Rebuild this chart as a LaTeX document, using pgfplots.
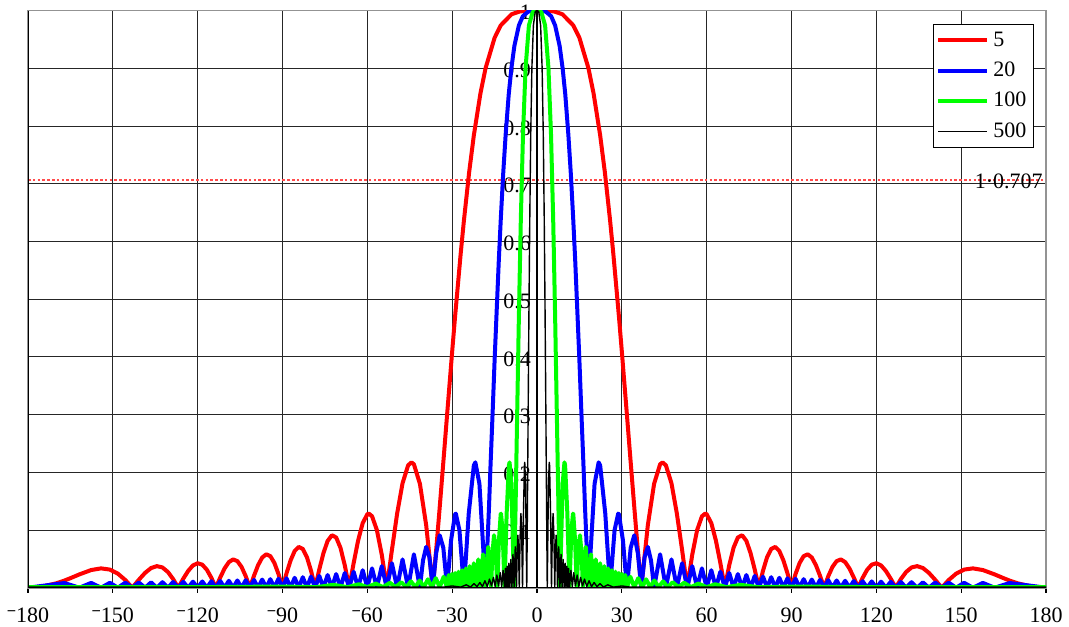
\documentclass[border=0pt]{standalone}
\usepackage{pgfplots}
\usepackage{pgfplotstable}
\usepackage{graphicx}
\usepackage{fontspec}
\setmainfont{Liberation Serif}
\pgfplotsset{compat=1.18}
\newcommand{\mn}{\raisebox{0.18em}{\scalebox{0.75}[1]{−}}}
\definecolor{pure red}{RGB}{255,0,0}
\definecolor{pure blue}{RGB}{0,0,255}
\definecolor{pure green}{RGB}{0,255,0}

\pgfplotstableread{
x y
-180 0
-175 0.0019
-170 0.0076
-167.16 0.0123
-165 0.0165
-161.81 0.0231
-157.67 0.0306
-154.16 0.0335
-151.04 0.0314
-148.21 0.0243
-145.59 0.0133
-143.13 0
-140.81 0.0137
-138.59 0.0257
-136.47 0.0341
-134.43 0.0374
-132.45 0.0351
-130.54 0.0273
-128.68 0.0150
-126.87 0
-125.10 0.0155
-123.37 0.0290
-121.67 0.0386
-120 0.0424
-118.36 0.0399
-116.74 0.0310
-115.15 0.0171
-113.58 0
-112.02 0.0177
-110.49 0.0333
-108.97 0.0444
-107.46 0.0490
-105.96 0.0461
-104.48 0.0360
-103.00 0.0199
-101.54 0
-100.08 0.0207
-98.63 0.0391
-97.18 0.0523
-95.74 0.0579
-94.30 0.0547
-92.87 0.0429
-91.43 0.0238
-90 0
-88.57 0.0250
-87.13 0.0474
-85.70 0.0636
-84.26 0.0707
-82.82 0.0672
-81.37 0.0530
-79.92 0.0295
-78.46 0
-77.00 0.0314
-75.52 0.0600
-74.04 0.0811
-72.54 0.0909
-71.03 0.0871
-69.51 0.0693
-67.98 0.0390
-66.42 0
-64.85 0.0424
-63.26 0.0818
-61.64 0.1120
-60.00 0.1273
-59.46 0.1284
-58.33 0.1238
-56.63 0.1000
-54.90 0.0573
-53.13 0
-51.32 0.0650
-49.46 0.1286
-47.55 0.1810
-45.57 0.2122
-44.40 0.2172
-43.53 0.2139
-41.41 0.1801
-39.19 0.1083
-36.87 0
-35.5 0.0743
-34.41 0.1392
-33 0.2252
-31.79 0.3001
-30 0.4092
-28.96 0.4706
-27 0.5783
-25.84 0.6366
-24 0.7199
-22.33 0.7842
-20 0.8568
-18.19 0.9003
-15 0.9530
-12.84 0.9745
-9 0.9938
-6 0.9988
-3 0.9999
0 1
3 0.9999
6 0.9988
9 0.9938
12.84 0.9745
15 0.9530
18.19 0.9003
20 0.8568
22.33 0.7842
24 0.7199
25.84 0.6366
27 0.5783
28.96 0.4706
30 0.4092
31.79 0.3001
33 0.2252
34.41 0.1392
35.5 0.0743
36.87 0
39.19 0.1083
41.41 0.1801
43.53 0.2139
44.40 0.2172
45.57 0.2122
47.55 0.1810
49.46 0.1286
51.32 0.0650
53.13 0
54.90 0.0573
56.63 0.1000
58.33 0.1238
59.46 0.1284
60.00 0.1273
61.64 0.1120
63.26 0.0818
64.85 0.0424
66.42 0
67.98 0.0390
69.51 0.0693
71.03 0.0871
72.54 0.0909
74.04 0.0811
75.52 0.0600
77.00 0.0314
78.46 0
79.92 0.0295
81.37 0.0530
82.82 0.0672
84.26 0.0707
85.70 0.0636
87.13 0.0474
88.57 0.0250
90 0
91.43 0.0238
92.87 0.0429
94.30 0.0547
95.74 0.0579
97.18 0.0523
98.63 0.0391
100.08 0.0207
101.54 0
103.00 0.0199
104.48 0.0360
105.96 0.0461
107.46 0.0490
108.97 0.0444
110.49 0.0333
112.02 0.0177
113.58 0
115.15 0.0171
116.74 0.0310
118.36 0.0399
120 0.0424
121.67 0.0386
123.37 0.0290
125.10 0.0155
126.87 0
128.68 0.0150
130.54 0.0273
132.45 0.0351
134.43 0.0374
136.47 0.0341
138.59 0.0257
140.81 0.0137
143.13 0
145.59 0.0133
148.21 0.0243
151.04 0.0314
154.16 0.0335
157.67 0.0306
161.81 0.0231
165 0.0165
167.16 0.0123
170 0.0076
175 0.0019
180 0
}\redtab

\pgfplotstableread{
x y
-180 0
-167.16 0.0081
-161.81 0
-157.67 0.0083
-154.16 0
-151.04 0.0085
-148.21 0
-145.59 0.0087
-143.13 0
-140.81 0.0090
-138.59 0
-136.47 0.0092
-134.43 0
-132.45 0.0095
-130.54 0
-128.68 0.0098
-126.87 0
-125.10 0.0101
-123.37 0
-121.67 0.0104
-120 0
-118.36 0.0108
-116.74 0
-115.15 0.0112
-113.58 0
-112.02 0.0116
-110.49 0
-108.97 0.0120
-107.46 0
-105.96 0.0125
-104.48 0
-103.00 0.0130
-101.54 0
-100.08 0.0135
-98.63 0
-97.18 0.0141
-95.74 0
-94.30 0.0148
-92.87 0
-91.43 0.0155
-90 0
-88.57 0.0163
-87.13 0
-85.70 0.0172
-84.26 0
-82.82 0.0182
-81.37 0
-79.92 0.0193
-78.46 0
-77.00 0.0205
-75.52 0
-74.04 0.0220
-72.54 0
-71.03 0.0236
-69.51 0
-67.98 0.0255
-66.42 0
-64.85 0.0277
-63.26 0
-61.64 0.0303
-60 0
-58.33 0.0335
-56.63 0
-54.90 0.0374
-53.13 0
-51.32 0.0424
-49.46 0
-47.55 0.0490
-45.57 0
-43.53 0.0579
-41.41 0
-40.31 0.0474
-39.19 0.0707
-38.05 0.0530
-36.87 0
-35.66 0.0600
-34.41 0.0909
-33.13 0.0693
-31.79 0
-30.40 0.0818
-28.96 0.1273
-28.71 0.1284
-27.44 0.1000
-25.84 0
-24.14 0.1286
-22.33 0.2122
-21.80 0.2172
-20.36 0.1801
-18.19 0
-17.6 0.0680
-16.98 0.1392
-16.4 0.2163
-15.72 0.3001
-15 0.3932
-14.34 0.4706
-13.5 0.5682
-12.83 0.6366
-12 0.7141
-11.10 0.7842
-10 0.8550
-9.06 0.9003
-8 0.9390
-6.41 0.9745
-5 0.9905
-3 0.9988
0 1
3 0.9988
5 0.9905
6.41 0.9745
8 0.9390
9.06 0.9003
10 0.8550
11.10 0.7842
12 0.7141
12.83 0.6366
13.5 0.5682
14.34 0.4706
15 0.3932
15.72 0.3001
16.4 0.2163
16.98 0.1392
17.6 0.0680
18.19 0
20.36 0.1801
21.80 0.2172
22.33 0.2122
24.14 0.1286
25.84 0
27.44 0.1000
28.71 0.1284
28.96 0.1273
30.40 0.0818
31.79 0
33.13 0.0693
34.41 0.0909
35.66 0.0600
36.87 0
38.05 0.0530
39.19 0.0707
40.31 0.0474
41.41 0
43.53 0.0579
45.57 0
47.55 0.0490
49.46 0
51.32 0.0424
53.13 0
54.90 0.0374
56.63 0
58.33 0.0335
60 0
61.64 0.0303
63.26 0
64.85 0.0277
66.42 0
67.98 0.0255
69.51 0
71.03 0.0236
72.54 0
74.04 0.0220
75.52 0
77.00 0.0205
78.46 0
79.92 0.0193
81.37 0
82.82 0.0182
84.26 0
85.70 0.0172
87.13 0
88.57 0.0163
90 0
91.43 0.0155
92.87 0
94.30 0.0148
95.74 0
97.18 0.0141
98.63 0
100.08 0.0135
101.54 0
103.00 0.0130
104.48 0
105.96 0.0125
107.46 0
108.97 0.0120
110.49 0
112.02 0.0116
113.58 0
115.15 0.0112
116.74 0
118.36 0.0108
120 0
121.67 0.0104
123.37 0
125.10 0.0101
126.87 0
128.68 0.0098
130.54 0
132.45 0.0095
134.43 0
136.47 0.0092
138.59 0
140.81 0.0090
143.13 0
145.59 0.0087
148.21 0
151.04 0.0085
154.16 0
157.67 0.0083
161.81 0
167.16 0.0081
180 0
}\bluetab

\pgfplotstableread{
x y
-180 0.001
-120 0.001
-90 0.002
-78.0 0.0010
-72.0 0.0050
-67.0 0.0010
-63.0 0.0060
-60.0 0.0010
-57.0 0.0072
-54.5 0.0010
-52.0 0.0085
-50.0 0.0010
-48.0 0.0095
-46.2 0.0010
-44.6 0.0110
-43.0 0.0010
-41.5 0.0125
-40.0 0.0010
-38.6 0.0145
-37.2 0.0010
-35.8 0.0165
-34.4 0.0010
-33.0 0.0190
-31.79 0
-31.24 0.0220
-30.68 0
-30.12 0.0236
-29.54 0
-28.96 0.0255
-28.35 0
-27.75 0.0277
-27.13 0
-26.49 0.0303
-25.84 0
-25.172 0.0335
-24.490 0
-23.790 0.0374
-23.071 0
-22.329 0.0424
-21.563 0
-20.770 0.0490
-19.947 0
-19.090 0.0579
-18.194 0
-17.253 0.0707
-16.260 0
-15.740 0.0600
-15.203 0.0909
-14.647 0.0693
-14.070 0
-13.468 0.0818
-12.838 0.1273
-12.732 0.1284
-12.177 0.1000
-11.478 0
-10.735 0.1286
-9.936 0.2122
-9.701 0.2172
-9.069 0.1801
-8.110 0
-7.580 0.1392
-7.017 0.3001
-6.406 0.4706
-5.730 0.6366
-4.962 0.7842
-4.051 0.9003
-2.865 0.9745
-1.5 0.9981
0 1
1.5 0.9981
2.865 0.9745
4.051 0.9003
4.962 0.7842
5.730 0.6366
6.406 0.4706
7.017 0.3001
7.580 0.1392
8.110 0
9.069 0.1801
9.701 0.2172
9.936 0.2122
10.735 0.1286
11.478 0
12.177 0.1000
12.732 0.1284
12.838 0.1273
13.468 0.0818
14.070 0
14.647 0.0693
15.203 0.0909
15.740 0.0600
16.260 0
17.253 0.0707
18.194 0
19.090 0.0579
19.947 0
20.770 0.0490
21.563 0
22.329 0.0424
23.071 0
23.790 0.0374
24.490 0
25.172 0.0335
25.84 0
26.49 0.0303
27.13 0
27.75 0.0277
28.35 0
28.96 0.0255
29.54 0
30.12 0.0236
30.68 0
31.24 0.0220
31.79 0
33.0 0.0190
34.4 0.0010
35.8 0.0165
37.2 0.0010
38.6 0.0145
40.0 0.0010
41.5 0.0125
43.0 0.0010
44.6 0.0110
46.2 0.0010
48.0 0.0095
50.0 0.0010
52.0 0.0085
54.5 0.0010
57.0 0.0072
60.0 0.0010
63.0 0.0060
67.0 0.0010
72.0 0.0050
78.0 0.0010
90 0.002
120 0.001
180 0.001
}\greentab

\pgfplotstableread{
x y
-180 0.001
-33.0 0.001
-30.0 0.003
-27.0 0.001
-25.0 0.005
-23.5 0.001
-22.3 0.007
-21.2 0.002
-20.2 0.009
-19.3 0.002
-18.4 0.012
-17.6 0.002
-16.8 0.015
-16.1 0.003
-15.4 0.018
-14.8 0.002
-14.2 0.022
-13.6 0.003
-13.0 0.026
-12.5 0.002
-12.0 0.030
-11.478 0
-11.169 0.0335
-10.871 0
-10.565 0.0374
-10.249 0
-9.924 0.0424
-9.587 0
-9.239 0.0490
-8.876 0
-8.498 0.0579
-8.103 0
-7.687 0.0707
-7.247 0
-7.017 0.0600
-6.779 0.0909
-6.533 0.0693
-6.276 0
-6.009 0.0818
-5.730 0.1273
-5.682 0.1284
-5.435 0.1000
-5.125 0
-4.794 0.1286
-4.438 0.2122
-4.333 0.2172
-4.051 0.1801
-3.624 0
-3.390 0.1392
-3.138 0.3001
-2.865 0.4706
-2.562 0.6366
-2.219 0.7842
-1.812 0.9003
-1.281 0.9745
-0.6 0.9988
0 1
0.6 0.9988
1.281 0.9745
1.812 0.9003
2.219 0.7842
2.562 0.6366
2.865 0.4706
3.138 0.3001
3.390 0.1392
3.624 0
4.051 0.1801
4.333 0.2172
4.438 0.2122
4.794 0.1286
5.125 0
5.435 0.1000
5.682 0.1284
5.730 0.1273
6.009 0.0818
6.276 0
6.533 0.0693
6.779 0.0909
7.017 0.0600
7.247 0
7.687 0.0707
8.103 0
8.498 0.0579
8.876 0
9.239 0.0490
9.587 0
9.924 0.0424
10.249 0
10.565 0.0374
10.871 0
11.169 0.0335
11.478 0
12.0 0.030
12.5 0.002
13.0 0.026
13.6 0.003
14.2 0.022
14.8 0.002
15.4 0.018
16.1 0.003
16.8 0.015
17.6 0.002
18.4 0.012
19.3 0.002
20.2 0.009
21.2 0.002
22.3 0.007
23.5 0.001
25.0 0.005
27.0 0.001
30.0 0.003
33.0 0.001
180 0.001
}\blacktab

\begin{document}
\begin{tikzpicture}
\begin{axis}[
  width=509pt, height=288.5pt, scale only axis,
  xmin=-180, xmax=180, ymin=0, ymax=1,
  xtick={-180,-150,-120,-90,-60,-30,0,30,60,90,120,150,180},
  xticklabels={\mn180,\mn150,\mn120,\mn90,\mn60,\mn30,0,30,60,90,120,150,180},
  ytick={0,0.1,0.2,0.3,0.4,0.5,0.6,0.7,0.8,0.9,1},
  yticklabels={,0.1,0.2,0.3,0.4,0.5,0.6,0.7,0.8,0.9,1},
  grid=major,
  major grid style={draw=black!85, line width=0.5pt},
  axis line style={draw=gray!85, line width=0.8pt},
  xtick pos=left, tick align=outside, major tick length=2.5pt,
  xtick style={draw=black, line width=0.6pt},
  ytick style={draw=none},
  ticklabel style={font=\fontsize{11}{13}\selectfont},
  xticklabel style={inner sep=1pt, yshift=-6.3pt},
  yticklabel style={xshift=257.5pt, yshift=-1pt},
  legend style={at={(axis description cs:0.9882,0.977)}, anchor=north east,
    draw=black, line width=0.7pt, fill=white,
    font=\fontsize{11}{13}\selectfont, inner xsep=1.5pt, inner ysep=1.5pt,
    row sep=2.4pt},
  legend cell align=left,
  legend image code/.code={\draw[#1] (0pt,0pt) -- (24.5pt,0pt);},
  clip=true,
]
\addplot[forget plot, pure red!70, line width=0.8pt, dash pattern=on 1.3pt off 1.1pt] coordinates {(-180,0.707) (180,0.707)};
\addplot[pure red, line width=2pt, line join=round] table[x=x,y=y] {\redtab};
\addplot[pure blue, line width=2pt, line join=round] table[x=x,y=y] {\bluetab};
\addplot[pure green, line width=2pt, line join=round] table[x=x,y=y] {\greentab};
\addplot[black, line width=0.7pt, line join=round] table[x=x,y=y] {\blacktab};
\legend{5,20,100,500}
\draw[black, line width=0.8pt] (rel axis cs:0,1) -- (rel axis cs:0,0) -- (rel axis cs:1,0);
\draw[black, line width=0.6pt] (axis cs:0,0) -- (axis cs:0,1);
\node[anchor=east, inner sep=1.5pt, font=\fontsize{11}{13}\selectfont, yshift=-0.8pt] at (axis cs:180,0.707) {1·0.707};
\end{axis}
\pgfresetboundingbox
\path[use as bounding box] ([xshift=-14pt,yshift=-19.5pt]current axis.south west) rectangle ([xshift=11.5pt,yshift=5.35pt]current axis.north east);
\end{tikzpicture}
\end{document}
